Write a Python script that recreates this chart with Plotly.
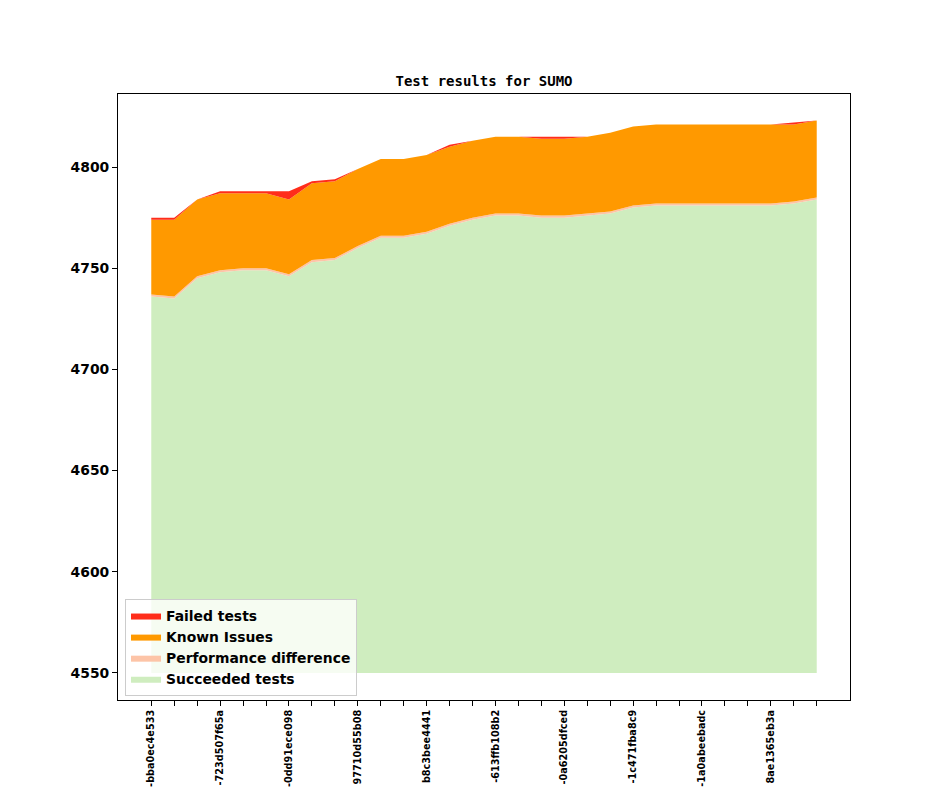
import numpy as np
import plotly.graph_objects as go

# test counts per commit
succeeded = [4736, 4735, 4745, 4748, 4749, 4749, 4746, 4753, 4754, 4760,
             4765, 4765, 4767, 4771, 4774, 4776, 4776, 4775, 4775, 4776,
             4777, 4780, 4781, 4781, 4781, 4781, 4781, 4781, 4782, 4784]
perf_diff = [1] * 30
known_issues = [37, 38, 38, 38, 37, 37, 37, 38, 38, 38,
                38, 38, 38, 38, 38, 38, 38, 38, 38, 38,
                39, 39, 39, 39, 39, 39, 39, 39, 38, 38]
failed = [1, 1, 0, 1, 1, 1, 4, 1, 1, 0,
          0, 0, 0, 1, 0, 0, 0, 1, 1, 0,
          0, 0, 0, 0, 0, 0, 0, 0, 1, 0]
commit_labels = ["-bba0ec4e533", "-723d507f65a", "-0dd91ece098", "97710d55b08",
                 "b8c3bee4441", "-613ffb108b2", "-0a6205dfced", "-1c471fba8c9",
                 "-1a0abeebadc", "8ae1365eb3a"]
baseline = 4550

x = np.arange(len(succeeded))
ticktext = ["" for _ in x]
for i, lab in enumerate(commit_labels):
    ticktext[i * 3] = lab

layers = [
    ("Succeeded tests", succeeded, "#cfedbf"),
    ("Performance difference", perf_diff, "#fdc4a7"),
    ("Known Issues", known_issues, "#ff9900"),
    ("Failed tests", failed, "#ff2d1a"),
]

fig = go.Figure()
fig.add_trace(go.Scatter(x=x, y=[baseline] * len(x), mode="lines",
                         line=dict(width=0), showlegend=False, hoverinfo="skip"))
top = None
for name, vals, color in layers:
    top = np.array(vals, dtype=float) if top is None else top + np.array(vals)
    fig.add_trace(go.Scatter(x=x, y=top, mode="lines", name=name,
                             line=dict(width=0, color=color),
                             fill="tonexty", fillcolor=color))

# page body adds ~8px offset, margins are compensated for it
fig.update_layout(
    width=944, height=787,
    margin=dict(l=110, r=102, t=86, b=95),
    plot_bgcolor="white", paper_bgcolor="white",
    title=dict(text="Test results for SUMO", x=(484 - 8) / 944, xanchor="center",
               y=1 - (81 - 8) / 787, yanchor="middle",
               font=dict(family="DejaVu Sans Mono", size=14, color="black", weight="bold")),
    legend=dict(x=0.0096, y=0.0066, xanchor="left", yanchor="bottom",
                traceorder="reversed", bgcolor="rgba(255,255,255,0.8)",
                bordercolor="#cccccc", borderwidth=1,
                font=dict(family="DejaVu Sans", size=13.9, color="black", weight="bold")),
    showlegend=True,
)
fig.update_xaxes(range=[-1.45, 30.45], tickvals=x, ticktext=ticktext, tickangle=-90,
                 ticks="outside", ticklen=5, tickcolor="black", showgrid=False, zeroline=False,
                 showline=True, linecolor="black", linewidth=1, mirror=True, automargin=False,
                 tickfont=dict(family="DejaVu Sans", size=9.7, color="black", weight="bold"))
fig.update_yaxes(range=[4536.6, 4836.1], tickvals=[4550, 4600, 4650, 4700, 4750, 4800],
                 ticks="outside", ticklen=5, tickcolor="black", showgrid=False, zeroline=False,
                 showline=True, linecolor="black", linewidth=1, mirror=True, automargin=False,
                 tickfont=dict(family="DejaVu Sans", size=13.9, color="black", weight="bold"))

fig.write_html("out.html")
